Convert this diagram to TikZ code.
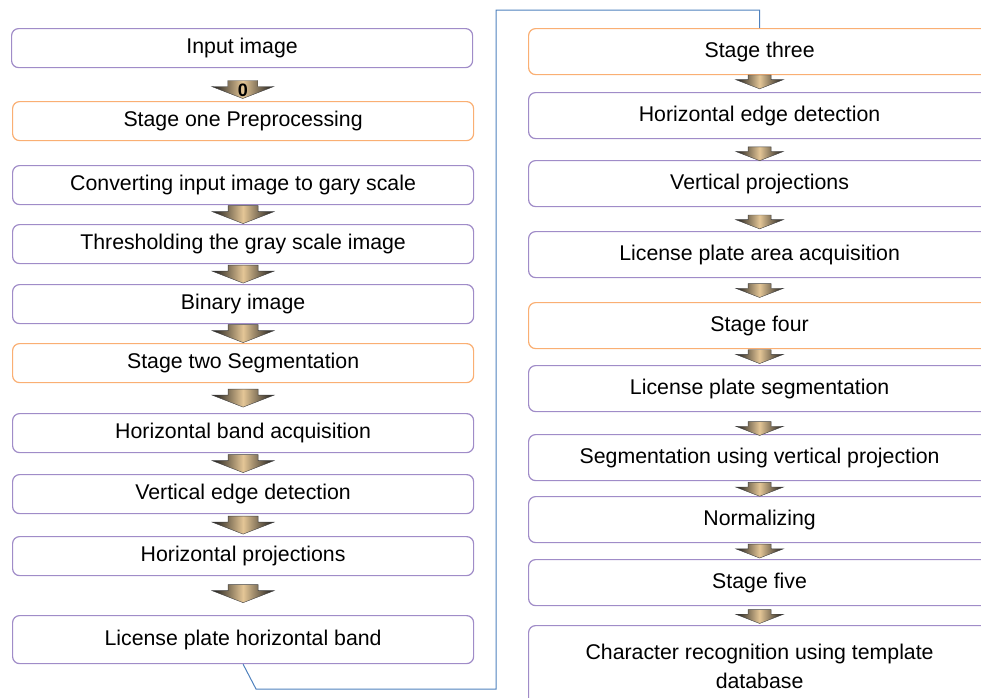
\documentclass[tikz,border=0pt]{standalone}
\usepackage{fontspec}
\setmainfont{Liberation Sans}
\definecolor{boxpurple}{RGB}{160,140,200}
\definecolor{boxorange}{RGB}{250,175,115}
\definecolor{linkblue}{RGB}{79,129,189}
\definecolor{arrowtan}{RGB}{228,198,150}
\tikzset{
  stepbox/.style={draw=boxpurple, line width=1.2pt, rounded corners=7pt, fill=white,
    anchor=north west, align=center, inner sep=0pt,
    font=\fontsize{21.3}{29}\selectfont},
  leftbox/.style={stepbox, minimum width=461pt, minimum height=39pt},
  rightbox/.style={stepbox, minimum width=462pt, minimum height=46pt},
  stagebox/.style={draw=boxorange},
  bluelink/.style={draw=linkblue, line width=1pt},
  downarrow/.pic={
    \shade[left color=black!90, right color=black!90, middle color=arrowtan,
      draw=black!75, line width=0.4pt]
      (-15,-9) -- (15,-9) -- (15,-3) -- (31,-3) -- (0,9) -- (-31,-3) -- (-15,-3) -- cycle;
  },
  zero/.style={font=\fontsize{18}{18}\selectfont\bfseries, inner sep=0pt}
}
\begin{document}
\begin{tikzpicture}[x=1pt,y=-1pt]
  \useasboundingbox (0,0) rectangle (981,697);
  % left column
  \node[leftbox] (input) at (11,28) {Input image};
  \node[leftbox, stagebox] (stone) at (12,101) {Stage one Preprocessing};
  \node[leftbox] (gray) at (12,165) {Converting input image to gary scale};
  \node[leftbox] (thresh) at (12,224) {Thresholding the gray scale image};
  \node[leftbox] (binary) at (12,284) {Binary image};
  \node[leftbox, stagebox] (sttwo) at (12,343) {Stage two Segmentation};
  \node[leftbox] (hband) at (12,413) {Horizontal band acquisition};
  \node[leftbox] (vedge) at (12,474) {Vertical edge detection};
  \node[leftbox] (hproj) at (12,536) {Horizontal projections};
  \node[leftbox, minimum height=48pt] (lpband) at (12,615) {License plate horizontal band};
  % right column
  \node[rightbox, stagebox] (stthree) at (528,28) {Stage three};
  \node[rightbox] (hedge) at (528,92) {Horizontal edge detection};
  \node[rightbox] (vproj) at (528,160) {Vertical projections};
  \node[rightbox] (lparea) at (528,231) {License plate area acquisition};
  \node[rightbox, stagebox] (stfour) at (528,302) {Stage four};
  \node[rightbox] (lpseg) at (528,365) {License plate segmentation};
  \node[rightbox] (vseg) at (528,434) {Segmentation using vertical projection};
  \node[rightbox] (norm) at (528,496) {Normalizing};
  \node[rightbox] (stfive) at (528,559) {Stage five};
  \node[rightbox, minimum height=81pt] (charrec) at (528,625) {Character recognition using template\\database};

  % block arrows, left
  \path (input.south) -- pic[pos=0.65]{downarrow} node[zero, pos=0.68] (zerolabel) {0} (stone.north);
  \path (gray.south) -- pic[pos=0.5]{downarrow} (thresh.north);
  \path (thresh.south) -- pic[pos=0.5]{downarrow} (binary.north);
  \path (binary.south) -- pic[pos=0.5]{downarrow} (sttwo.north);
  \path (sttwo.south) -- pic[pos=0.5]{downarrow} (hband.north);
  \path (hband.south) -- pic[pos=0.5]{downarrow} (vedge.north);
  \path (vedge.south) -- pic[pos=0.5]{downarrow} (hproj.north);
  \path (hproj.south) -- pic[pos=0.45]{downarrow} (lpband.north);
  % block arrows, right
  \path (stthree.south) -- pic[pos=0.4, scale=0.77]{downarrow} (hedge.north);
  \path (hedge.south) -- pic[pos=0.7, scale=0.77]{downarrow} (vproj.north);
  \path (vproj.south) -- pic[pos=0.62, scale=0.77]{downarrow} (lparea.north);
  \path (lparea.south) -- pic[pos=0.52, scale=0.77]{downarrow} (stfour.north);
  \path (stfour.south) -- pic[pos=0.47, scale=0.77]{downarrow} (lpseg.north);
  \path (lpseg.south) -- pic[pos=0.75, scale=0.77]{downarrow} (vseg.north);
  \path (vseg.south) -- pic[pos=0.55, scale=0.77]{downarrow} (norm.north);
  \path (norm.south) -- pic[pos=0.5, scale=0.77]{downarrow} (stfive.north);
  \path (stfive.south) -- pic[pos=0.55, scale=0.77]{downarrow} (charrec.north);

  % link between the columns
  \coordinate (turn) at (496,10);
  \draw[bluelink] (lpband.south) -- ++(13,25) -| (turn) -| (stthree.north);
\end{tikzpicture}
\end{document}
